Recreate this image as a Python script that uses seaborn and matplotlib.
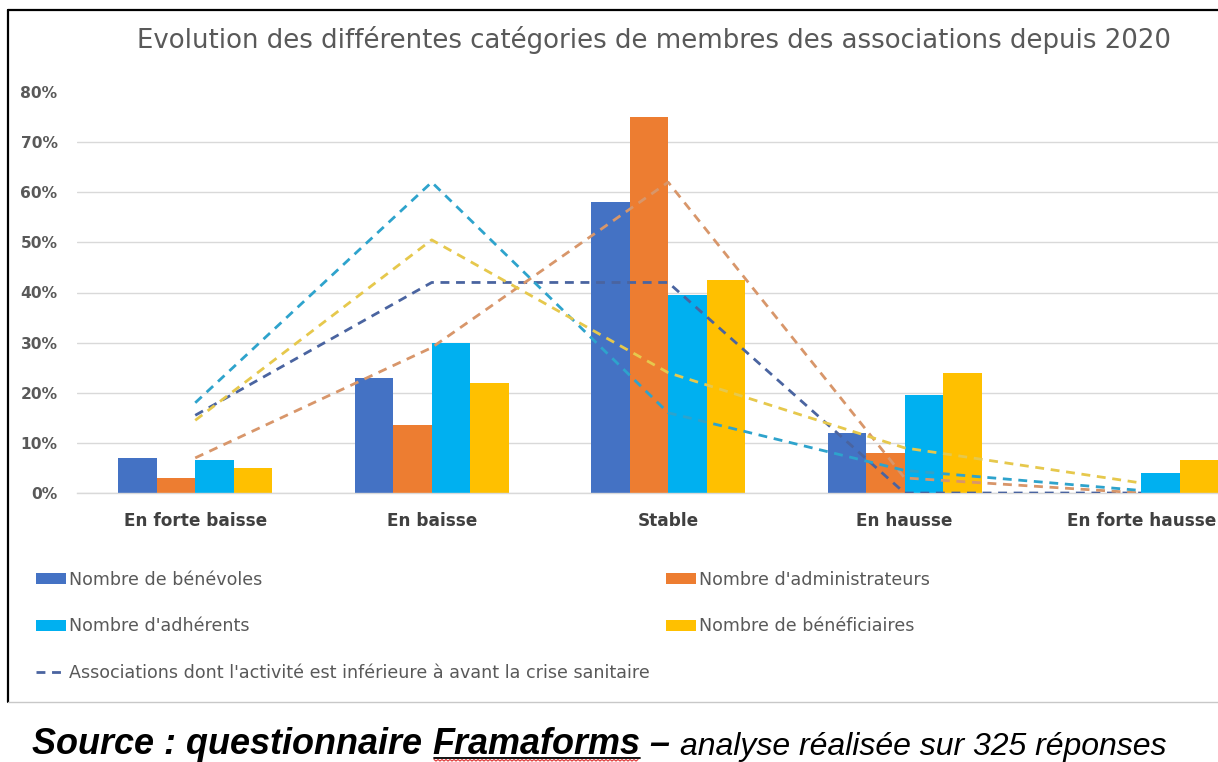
import numpy as np
import pandas as pd
import matplotlib
matplotlib.use("Agg")
import matplotlib.pyplot as plt
import seaborn as sns
from matplotlib.lines import Line2D
from matplotlib.patches import Patch
from matplotlib.ticker import PercentFormatter

# ---- data (percent of associations) ----
categories = ["En forte baisse", "En baisse", "Stable", "En hausse", "En forte hausse"]
series = ["Nombre de bénévoles", "Nombre d'administrateurs",
          "Nombre d'adhérents", "Nombre de bénéficiaires"]
benevoles = [7, 23, 58, 12, 0]
administrateurs = [3, 13.5, 75, 8, 0]
adherents = [6.5, 30, 39.5, 19.5, 4]
beneficiaires = [5, 22, 42.5, 24, 6.5]

# associations whose activity is below the pre-crisis level
line_label = "Associations dont l'activité est inférieure à avant la crise sanitaire"
benevoles_baisse = [15.5, 42, 42, 0, 0]
administrateurs_baisse = [7, 29, 62, 3, 0]
adherents_baisse = [18, 62, 16, 4.5, 0.5]
beneficiaires_baisse = [14.5, 50.5, 24, 9, 2]

y_ticks = [0, 10, 20, 30, 40, 50, 60, 70, 80]

bar_colors = ["#4472C4", "#ED7D31", "#00B0F0", "#FFC000"]
line_colors = ["#4a64a0", "#d8966a", "#2ea3cc", "#e6c84c"]
dash = (0, (3.2, 2.4))

W, H = 1218, 762
sns.set_theme(style="white")
plt.rcParams["font.family"] = ["DejaVu Sans"]

fig = plt.figure(figsize=(W / 100, H / 100), dpi=100)
fig.patch.set_facecolor("white")

# plot area in pixels
ax_left, ax_right, ax_top, ax_bottom = 77, 1218, 92, 493
ax = fig.add_axes([ax_left / W, 1 - ax_bottom / H,
                   (ax_right - ax_left) / W, (ax_bottom - ax_top) / H])

bars = pd.DataFrame({
    "categorie": np.repeat(categories, len(series)),
    "serie": series * len(categories),
    "valeur": np.column_stack([benevoles, administrateurs,
                               adherents, beneficiaires]).ravel(),
})
sns.barplot(data=bars, x="categorie", y="valeur", hue="serie",
            order=categories, hue_order=series, palette=bar_colors,
            width=0.65, gap=0, saturation=1, legend=False, ax=ax,
            edgecolor="none", linewidth=0, zorder=2)

lines = pd.DataFrame({
    "pos": np.tile(np.arange(len(categories)), len(series)),
    "serie": np.repeat(series, len(categories)),
    "valeur": np.concatenate([benevoles_baisse, administrateurs_baisse,
                              adherents_baisse, beneficiaires_baisse]),
})
for s, c in zip(series, line_colors):
    sub = lines[lines["serie"] == s]
    sns.lineplot(data=sub, x="pos", y="valeur", color=c, linewidth=2.0,
                 dashes=False, linestyle=dash, ax=ax, zorder=3)

ax.set_xlim(-0.5, 4.325)
ax.set_ylim(0, 80)
ax.set_yticks(y_ticks)
ax.yaxis.set_major_formatter(PercentFormatter(100, decimals=0))
ax.grid(axis="y", color="#d9d9d9", linewidth=1.0, zorder=0)
ax.grid(axis="x", visible=False)
ax.get_ygridlines()[-1].set_visible(False)
ax.set_axisbelow(True)
for side in ["top", "right", "left"]:
    ax.spines[side].set_visible(False)
ax.spines["bottom"].set_color("#d9d9d9")
ax.spines["bottom"].set_linewidth(1.0)
ax.set_xlabel("")
ax.set_ylabel("")
ax.tick_params(axis="both", length=0)
ax.tick_params(axis="y", pad=14, labelsize=11.2, labelcolor="#595959")
ax.tick_params(axis="x", pad=14, labelsize=12.2, labelcolor="#404040")
for t in ax.get_yticklabels():
    t.set_fontweight("bold")
for t in ax.get_xticklabels():
    t.set_fontweight("bold")

fig.text(654 / W, 1 - 40 / H,
         "Evolution des différentes catégories de membres des associations depuis 2020",
         ha="center", va="center", fontsize=18.7, color="#595959")

# legend
handles = [
    Patch(facecolor=bar_colors[0], edgecolor="none"),
    Patch(facecolor=bar_colors[2], edgecolor="none"),
    Line2D([0], [0], color="#4a64a0", lw=2.0, linestyle=dash),
    Patch(facecolor=bar_colors[1], edgecolor="none"),
    Patch(facecolor=bar_colors[3], edgecolor="none"),
]
labels = [series[0], series[2], line_label, series[1], series[3]]
leg = fig.legend(handles, labels, loc="upper left",
                 bbox_to_anchor=(20 / W, 1 - 555 / H), ncol=2, frameon=False,
                 fontsize=12.6, handlelength=1.75, handleheight=0.55,
                 handletextpad=0.15, labelspacing=1.64, columnspacing=0.92,
                 labelcolor="#595959")

# chart frame
fig.add_artist(Line2D([8 / W, 8 / W], [1 - 10 / H, 1 - 702 / H],
                      color="black", lw=1.6, transform=fig.transFigure))
fig.add_artist(Line2D([8 / W, 1], [1 - 10 / H, 1 - 10 / H],
                      color="black", lw=1.6, transform=fig.transFigure))
fig.add_artist(Line2D([8 / W, 1], [1 - 702 / H, 1 - 702 / H],
                      color="#c8c8c8", lw=1.0, transform=fig.transFigure))

# source line
fig.canvas.draw()
renderer = fig.canvas.get_renderer()
base_y = 1 - 754.5 / H
x = 32
pieces = [
    ("Source : questionnaire ", "bold", 25.9),
    ("Framaforms", "bold", 25.9),
    (" – ", "bold", 25.9),
    ("analyse réalisée sur 325 réponses", "normal", 23.0),
]
frama_box = None
for txt, weight, size in pieces:
    t = fig.text(x / W, base_y, txt, ha="left", va="baseline",
                 fontsize=size, fontstyle="italic", fontweight=weight,
                 family="Liberation Sans", color="black")
    bb = t.get_window_extent(renderer)
    if txt == "Framaforms":
        frama_box = bb
    x = bb.x1
if frama_box is not None:
    x0, x1 = frama_box.x0 + 2, frama_box.x1
    fig.add_artist(Line2D([x0 / W, x1 / W], [1 - 757.5 / H, 1 - 757.5 / H],
                          color="black", lw=1.3, transform=fig.transFigure))
    xs = np.arange(x0, x1, 2.0)
    ys = 1 - (760.3 + np.where(np.arange(len(xs)) % 2 == 0, -0.8, 0.8)) / H
    fig.add_artist(Line2D(xs / W, ys, color="#e03030", lw=0.8,
                          transform=fig.transFigure))

fig.savefig("out.png", dpi=100)
